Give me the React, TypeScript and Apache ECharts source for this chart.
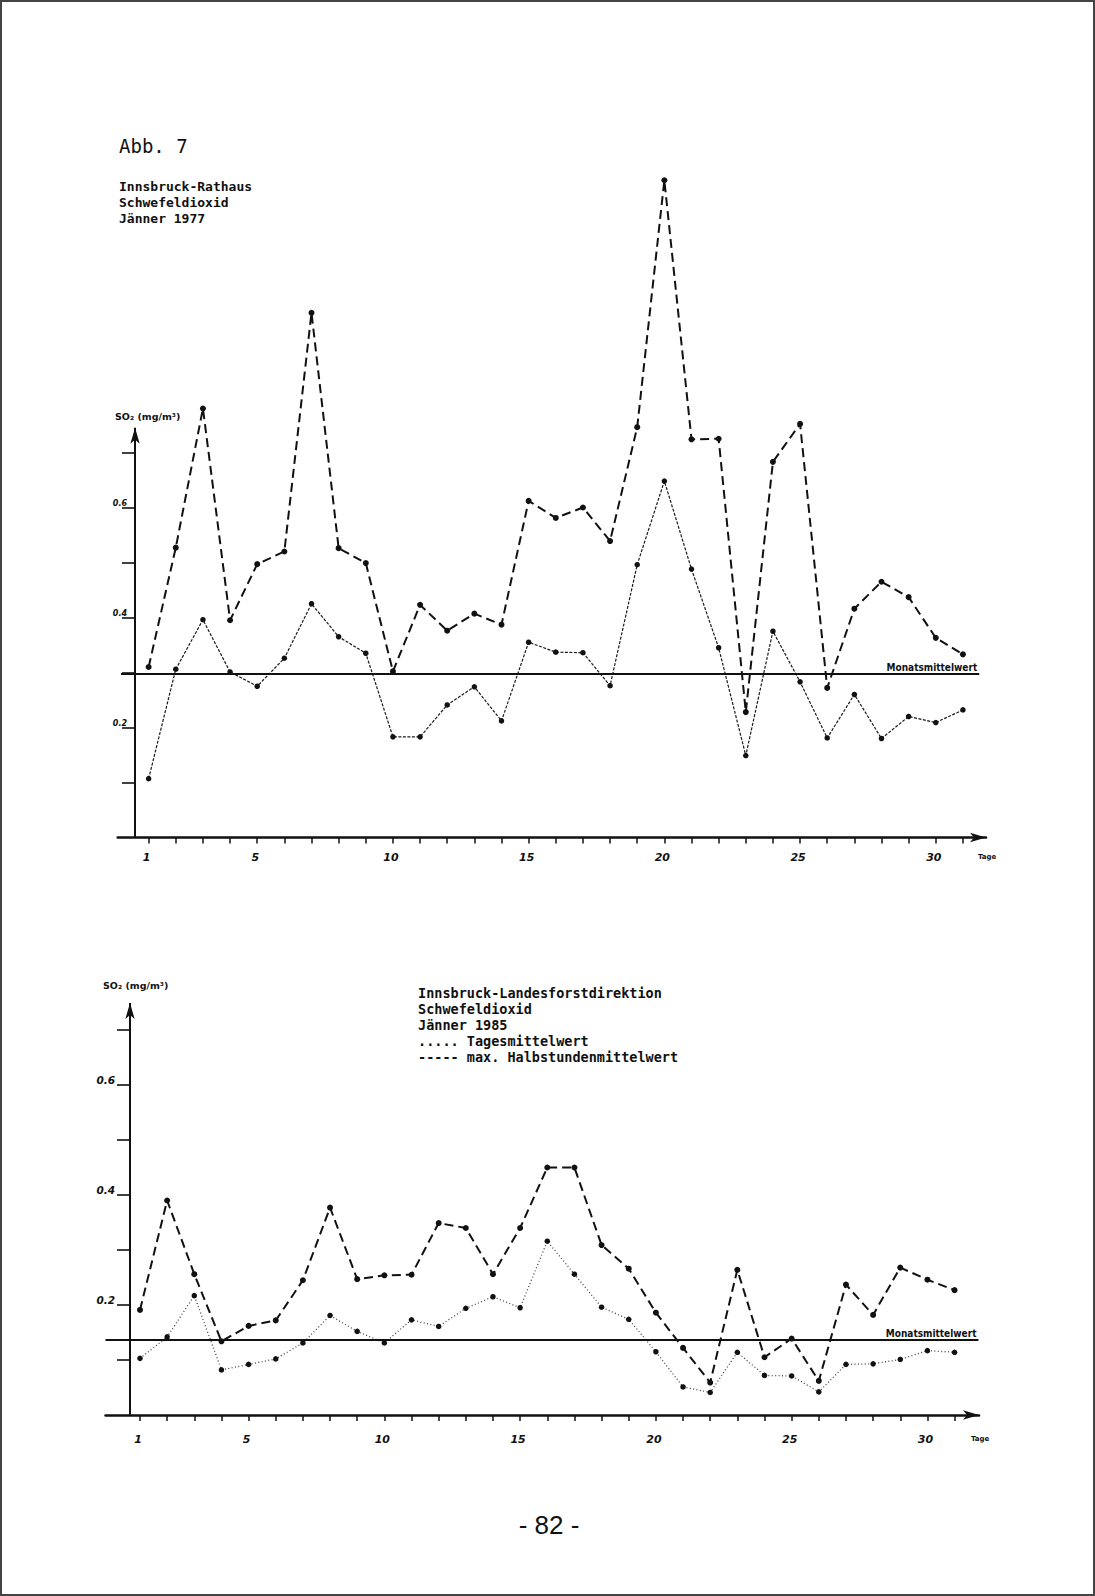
import React, { useEffect, useRef } from "react";
import * as echarts from "echarts";

// ---- data ----
const days = [1, 2, 3, 4, 5, 6, 7, 8, 9, 10, 11, 12, 13, 14, 15, 16, 17, 18, 19, 20, 21, 22, 23, 24, 25, 26, 27, 28, 29, 30, 31];
const dayLabels = [1, 5, 10, 15, 20, 25, 30];
const yTicks = [0.1, 0.2, 0.3, 0.4, 0.5, 0.6, 0.7];
const yLabels = [0.2, 0.4, 0.6];

// Innsbruck-Rathaus, Jänner 1977
const rathausMax = [0.31, 0.527, 0.78, 0.395, 0.497, 0.52, 0.954, 0.526, 0.499, 0.302, 0.423, 0.376, 0.407, 0.387, 0.612, 0.581, 0.6, 0.539, 0.746, 1.195, 0.724, 0.725, 0.228, 0.683, 0.752, 0.272, 0.416, 0.465, 0.437, 0.363, 0.333];
const rathausMean = [0.107, 0.306, 0.396, 0.301, 0.275, 0.326, 0.425, 0.365, 0.335, 0.183, 0.183, 0.241, 0.274, 0.212, 0.355, 0.337, 0.336, 0.276, 0.496, 0.648, 0.488, 0.345, 0.149, 0.375, 0.283, 0.181, 0.26, 0.18, 0.22, 0.209, 0.232];
const rathausMonthMean = 0.297;

// Innsbruck-Landesforstdirektion, Jänner 1985
const forstMax = [0.191, 0.39, 0.256, 0.134, 0.162, 0.172, 0.245, 0.377, 0.247, 0.254, 0.255, 0.349, 0.34, 0.256, 0.34, 0.45, 0.45, 0.309, 0.266, 0.186, 0.122, 0.059, 0.264, 0.105, 0.139, 0.062, 0.237, 0.182, 0.268, 0.246, 0.227];
const forstMean = [0.103, 0.142, 0.217, 0.082, 0.092, 0.102, 0.131, 0.181, 0.152, 0.131, 0.173, 0.161, 0.194, 0.215, 0.195, 0.316, 0.256, 0.196, 0.174, 0.115, 0.051, 0.041, 0.114, 0.072, 0.071, 0.042, 0.092, 0.093, 0.101, 0.117, 0.114];
const forstMonthMean = 0.136;

const INK = "#111";

function pairs(vals: number[]) {
  return days.map((d, i) => [d, vals[i]]);
}

function xAxisFor(gridIndex: number, min: number, max: number, margin: number, namePad: number) {
  return {
    type: "value",
    gridIndex,
    min,
    max,
    axisLine: {
      show: true,
      onZero: false,
      symbol: ["none", "arrow"],
      symbolSize: [7, 16],
      lineStyle: { color: INK, width: 2.5 },
    },
    axisTick: { show: true, customValues: days, length: 6, lineStyle: { color: INK, width: 1.5 } },
    axisLabel: {
      show: true,
      customValues: dayLabels,
      margin,
      padding: [0, 4, 0, 0],
      fontSize: 11,
      fontStyle: "italic",
      fontWeight: "bold",
      fontFamily: "DejaVu Sans",
      color: INK,
    },
    splitLine: { show: false },
    name: "Tage",
    nameLocation: "end",
    nameGap: -8,
    nameTextStyle: {
      fontSize: 7,
      fontWeight: "bold",
      fontFamily: "DejaVu Sans",
      color: INK,
      verticalAlign: "top",
      padding: [namePad, 0, 0, 0],
    },
  };
}

function yAxisFor(gridIndex: number, max: number, offset: number, labelSize: number, margin: number) {
  return {
    type: "value",
    gridIndex,
    min: 0,
    max,
    offset,
    axisLine: { show: false, onZero: false },
    axisTick: { show: true, customValues: yTicks, length: 13, lineStyle: { color: INK, width: 1.6 } },
    axisLabel: {
      show: true,
      customValues: yLabels,
      formatter: (v: number) => v.toFixed(1),
      margin,
      verticalAlign: "bottom",
      fontSize: labelSize,
      fontStyle: "italic",
      fontWeight: "bold",
      fontFamily: "DejaVu Sans",
      color: INK,
    },
    splitLine: { show: false },
  };
}

function frameLines(yAxisX: number, yTop: number, meanVal: number, meanFrom: number, meanTo: number) {
  return {
    silent: true,
    symbol: ["none", "none"],
    lineStyle: { color: INK, width: 2, type: "solid" },
    label: { show: false },
    emphasis: { disabled: true },
    data: [
      [
        { coord: [yAxisX, 0], symbol: "none" },
        { coord: [yAxisX, yTop], symbol: "arrow", symbolSize: [7, 16] },
      ],
      [
        {
          coord: [meanFrom, meanVal],
          symbol: "none",
          label: {
            show: true,
            position: "insideEndTop",
            formatter: "Monatsmittelwert",
            fontSize: 10,
            fontWeight: "bold",
            fontFamily: "DejaVu Sans Condensed",
            color: INK,
            distance: 2,
          },
        },
        { coord: [meanTo, meanVal], symbol: "none" },
      ],
    ],
  };
}

function lineSeries(idx: number, vals: number[], big: boolean, color: string, width: number, dash: number[], markLine?: any) {
  return {
    type: "line",
    xAxisIndex: idx,
    yAxisIndex: idx,
    data: pairs(vals),
    clip: false,
    symbol: "circle",
    symbolSize: big ? 6 : 5.5,
    itemStyle: { color: INK },
    lineStyle: { color, width, type: dash },
    emphasis: { disabled: true },
    ...(markLine ? { markLine } : {}),
  };
}

function txt(text: string, x: number, y: number, font: string, align = "left") {
  return {
    type: "text",
    x,
    y,
    silent: true,
    style: { text, font, fill: INK, textAlign: align, textVerticalAlign: "middle" },
  };
}

export default function App() {
  const ref = useRef<HTMLDivElement>(null);
  useEffect(() => {
    if (!ref.current) return;
    const chart = echarts.init(ref.current, null, { renderer: "svg" });
    const mono = "'DejaVu Sans Mono', monospace";
    const option: any = {
      animation: false,
      backgroundColor: "#ffffff",
      grid: [
        { left: 117.7, top: 150, width: 868.3, height: 687.5 },
        { left: 105.5, top: 1002.5, width: 873.5, height: 412.5 },
      ],
      xAxis: [xAxisFor(0, -0.14, 31.85, 14, 16), xAxisFor(1, -0.27, 31.9, 19, 20)],
      yAxis: [yAxisFor(0, 1.25, -17.3, 8, 8), yAxisFor(1, 0.75, -24.5, 10.5, 15)],
      series: [
        lineSeries(0, rathausMax, true, INK, 2, [9, 5], frameLines(0.5, 0.745, rathausMonthMean, -0.02, 31.6)),
        lineSeries(0, rathausMean, false, "#1a1a1a", 1.2, [3, 1.5]),
        lineSeries(1, forstMax, true, INK, 2, [9, 5], frameLines(0.632, 0.749, forstMonthMean, -0.27, 31.88)),
        lineSeries(1, forstMean, false, "#444", 1.3, [1, 2.4]),
      ],
      graphic: [
        txt("Abb. 7", 119, 146, `19px ${mono}`),
        txt("Innsbruck-Rathaus", 119, 186.5, `bold 13px ${mono}`),
        txt("Schwefeldioxid", 119, 202, `bold 13px ${mono}`),
        txt("Jänner 1977", 119, 218, `bold 13px ${mono}`),
        txt("SO₂ (mg/m³)", 115, 416, "bold 9.5px 'DejaVu Sans'"),
        txt("SO₂ (mg/m³)", 103, 985, "bold 9.5px 'DejaVu Sans'"),
        txt("Innsbruck-Landesforstdirektion", 418, 993, `bold 13.5px ${mono}`),
        txt("Schwefeldioxid", 418, 1009, `bold 13.5px ${mono}`),
        txt("Jänner 1985", 418, 1024.5, `bold 13.5px ${mono}`),
        txt("..... Tagesmittelwert", 418, 1040.5, `bold 13.5px ${mono}`),
        txt("----- max. Halbstundenmittelwert", 418, 1056.5, `bold 13.5px ${mono}`),
        txt("- 82 -", 549, 1525, "26px 'Liberation Sans'", "center"),
      ],
    };
    chart.setOption(option);
    return () => chart.dispose();
  }, []);
  return (
    <div style={{ position: "absolute", left: 0, top: 0, width: 1095, height: 1596, background: "#fff" }}>
      <div ref={ref} style={{ position: "absolute", left: 0, top: 0, width: 1095, height: 1596 }} />
      <div
        style={{
          position: "absolute",
          left: 0,
          top: 0,
          width: 1095,
          height: 1596,
          boxSizing: "border-box",
          border: "2px solid #444",
          pointerEvents: "none",
        }}
      />
    </div>
  );
}
